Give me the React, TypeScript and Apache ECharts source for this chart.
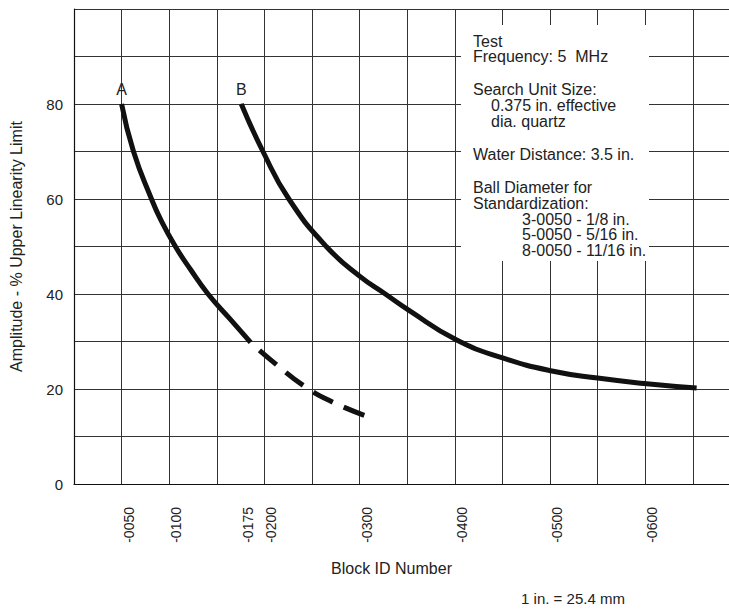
import React, { useEffect, useRef } from "react";
import * as echarts from "echarts";

// Block ID (x) vs amplitude % (y)
const curveASolid: [number, number][] = [
  [50, 80], [62.5, 70], [81.4, 60], [91.2, 55.6], [106.5, 50], [122.6, 45.1],
  [140.8, 40], [164.5, 34.6], [185.5, 29.8],
];
const curveADashed: [number, number][] = [
  [185.5, 29.8], [211.7, 25.3], [242, 20.6], [271, 17.3], [307, 14.3],
];
const curveB: [number, number][] = [
  [175.7, 80], [198.5, 70], [225.7, 60], [265, 50], [301, 43.6], [327, 40], [351.5, 36.6],
  [402, 30.3], [451, 26.5], [502, 23.8], [550, 22.3], [601.5, 21.1], [654, 20.2],
];
const xLabelValues = [50, 100, 175, 200, 300, 400, 500, 600];
const yLabelValues = [0, 20, 40, 60, 80];
const curveNames = ["A", "B"];
const noteLines: { text: string; indent: number; gap: number }[] = [
  { text: "Test", indent: 0, gap: 0 },
  { text: "Frequency: 5  MHz", indent: 0, gap: 0 },
  { text: "Search Unit Size:", indent: 0, gap: 1 },
  { text: "0.375 in. effective", indent: 1, gap: 0 },
  { text: "dia. quartz", indent: 1, gap: 0 },
  { text: "Water Distance: 3.5 in.", indent: 0, gap: 1 },
  { text: "Ball Diameter for", indent: 0, gap: 1 },
  { text: "Standardization:", indent: 0, gap: 0 },
  { text: "3-0050 - 1/8 in.", indent: 2, gap: 0 },
  { text: "5-0050 - 5/16 in.", indent: 2, gap: 0 },
  { text: "8-0050 - 11/16 in.", indent: 2, gap: 0 },
];
const scaleNote = "1 in. = 25.4 mm";
const xTitle = "Block ID Number";
const yTitle = "Amplitude - % Upper Linearity Limit";

const FONT = "'Liberation Sans', Arial, Helvetica, sans-serif";
const TEXT = "#222";
const GRIDC = "#333";

export default function App() {
  const ref = useRef<HTMLDivElement>(null);
  useEffect(() => {
    if (!ref.current) return;
    const chart = echarts.init(ref.current, null, { renderer: "svg" });

    const noteEls: any[] = [];
    let y = 41;
    const indents = [473, 491, 522];
    noteLines.forEach((l, i) => {
      if (i > 0) y += 15.7 + l.gap * 17.5;
      noteEls.push({
        type: "text",
        x: indents[l.indent],
        y,
        z: 101,
        style: {
          text: l.text,
          fontSize: 16,
          fontFamily: FONT,
          fill: TEXT,
          verticalAlign: "middle",
          align: "left",
        },
      });
    });

    const pad4 = (v: number) => "-" + String(v).padStart(4, "0");
    const lineBase = {
      type: "line",
      xAxisIndex: 0,
      smooth: 0.5,
      symbol: "none",
      z: 5,
    };

    chart.setOption({
      animation: false,
      backgroundColor: "#fff",
      grid: { left: 73, right: 0, top: 9, bottom: 125, containLabel: false },
      xAxis: [
        {
          type: "value",
          min: 0,
          max: 688,
          interval: 50,
          axisLine: { show: true, onZero: false, lineStyle: { color: "#111", width: 1.2 } },
          axisTick: { show: false },
          axisLabel: { show: false },
          splitLine: { show: true, lineStyle: { color: GRIDC, width: 1 } },
        },
        {
          type: "value",
          min: 0,
          max: 688,
          position: "bottom",
          axisLine: { show: false },
          axisTick: { show: false },
          splitLine: { show: false },
          axisLabel: {
            show: true,
            customValues: xLabelValues,
            rotate: 90,
            margin: 23,
            fontSize: 14,
            fontFamily: FONT,
            color: TEXT,
            verticalAlign: "top",
            formatter: (v: number) => pad4(v),
          },
          name: xTitle,
          nameLocation: "middle",
          nameGap: 76,
          nameTextStyle: { fontSize: 16, fontFamily: FONT, color: TEXT, padding: [0, 20, 0, 0] },
        },
      ],
      yAxis: {
        type: "value",
        min: 0,
        max: 100,
        interval: 10,
        axisLine: { show: true, lineStyle: { color: "#111", width: 1.2 } },
        axisTick: { show: false },
        splitLine: { show: true, lineStyle: { color: GRIDC, width: 1 } },
        axisLabel: {
          margin: 11,
          fontSize: 15,
          fontFamily: FONT,
          color: TEXT,
          formatter: (v: number) => (yLabelValues.includes(v) ? String(v) : ""),
        },
        name: yTitle,
        nameLocation: "middle",
        nameGap: 50,
        nameTextStyle: { fontSize: 16, fontFamily: FONT, color: TEXT },
      },
      series: [
        { ...lineBase, data: curveASolid, lineStyle: { color: "#111", width: 5 } },
        {
          ...lineBase,
          data: curveADashed,
          lineStyle: { color: "#111", width: 5, type: [22, 12], dashOffset: 22, cap: "butt" },
        },
        { ...lineBase, data: curveB, lineStyle: { color: "#111", width: 5 } },
        {
          type: "scatter",
          xAxisIndex: 0,
          symbol: "circle",
          symbolSize: 1,
          itemStyle: { color: "#111", opacity: 1 },
          data: [curveASolid[0], curveB[0]].map((p, i) => ({ value: p, name: curveNames[i] })),
          label: {
            show: true,
            position: "top",
            distance: 6,
            formatter: (p: any) => p.name,
            fontSize: 16,
            fontFamily: FONT,
            color: TEXT,
          },
          z: 6,
        },
      ],
      graphic: [
        {
          type: "rect",
          z: 100,
          shape: { x: 461, y: 25, width: 188, height: 236 },
          style: { fill: "#fff" },
        },
        ...noteEls,
        {
          type: "text",
          x: 573,
          y: 598,
          z: 101,
          style: {
            text: scaleNote,
            fontSize: 15,
            fontFamily: FONT,
            fill: TEXT,
            align: "center",
            verticalAlign: "middle",
          },
        },
      ],
    });
    return () => chart.dispose();
  }, []);
  return (
    <div
      ref={ref}
      style={{ width: 729, height: 609, position: "absolute", left: 0, top: 0 }}
    />
  );
}
